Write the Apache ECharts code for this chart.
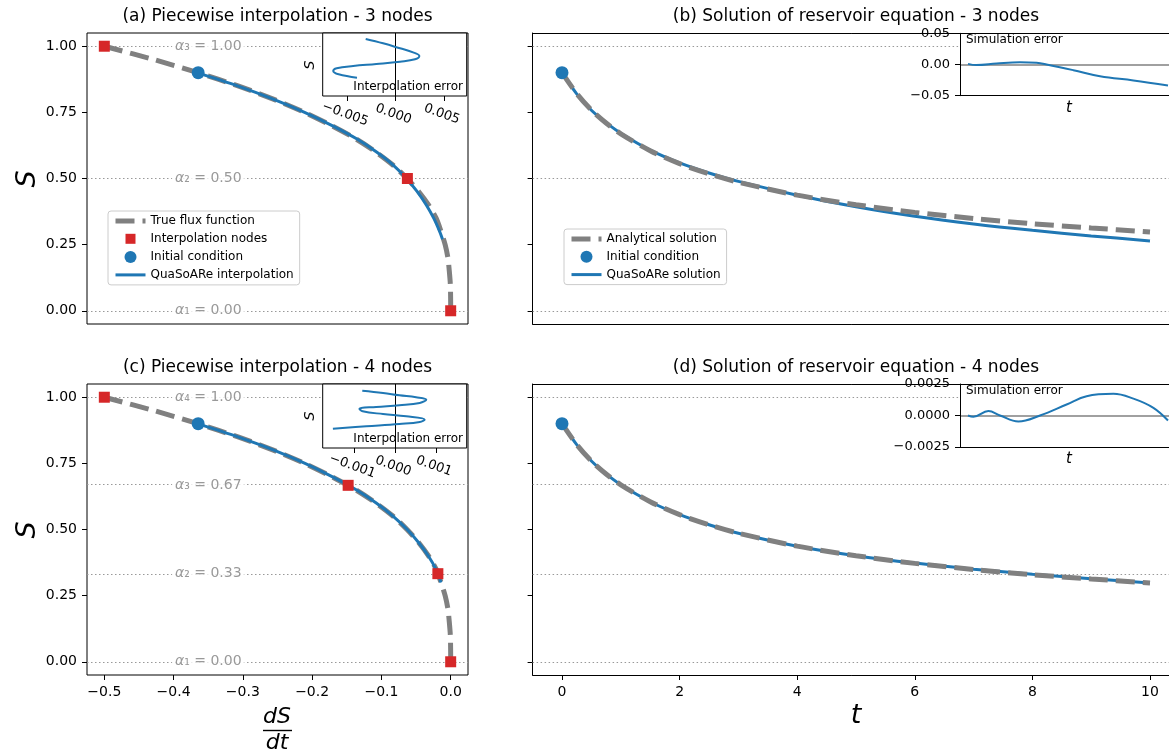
<!DOCTYPE html>
<html><head><meta charset="utf-8">
<script src="https://cdn.jsdelivr.net/npm/echarts@6/dist/echarts.min.js"></script>
<style>html,body{margin:0;padding:0;background:#fff}#c{width:1169px;height:751px}</style>
</head><body><div id="c"></div>
<script>
// ---------------- DATA ----------------
const panelTitles = ['(a) Piecewise interpolation - 3 nodes', '(b) Solution of reservoir equation - 3 nodes',
                     '(c) Piecewise interpolation - 4 nodes', '(d) Solution of reservoir equation - 4 nodes'];
// true flux function dS/dt(S)
const fluxS    = [0, 0.05, 0.1, 0.15, 0.2, 0.25, 0.3, 0.35, 0.4, 0.45, 0.5, 0.55, 0.6, 0.65, 0.7, 0.75, 0.8, 0.85, 0.9, 0.95, 1.0];
const fluxTrue = [0, -0.0001, -0.0005, -0.002, -0.004, -0.008, -0.014, -0.021, -0.032, -0.046, -0.063, -0.083, -0.108, -0.137, -0.172, -0.211, -0.256, -0.307, -0.365, -0.429, -0.5];
// QuaSoARe interpolation (3 and 4 nodes)
const quaso3S    = [0.9, 0.85, 0.8, 0.75, 0.7, 0.65, 0.6, 0.55, 0.5, 0.45, 0.4, 0.35, 0.3, 0.27];
const quaso3Flux = [-0.3665, -0.3078, -0.2563, -0.2109, -0.1711, -0.1358, -0.107, -0.0826, -0.0637, -0.0483, -0.0352, -0.0245, -0.0160, -0.0118];
const quaso4S    = [0.9, 0.85, 0.8, 0.75, 0.7, 0.65, 0.6, 0.55, 0.5, 0.45, 0.4, 0.35, 0.3];
const quaso4Flux = [-0.3658, -0.3073, -0.2553, -0.2103, -0.1712, -0.1364, -0.1075, -0.0829, -0.0628, -0.0461, -0.0322, -0.0213, -0.0140];
// interpolation nodes
const nodes3S = [1.0, 0.5, 0.0];
const nodes3Flux = [-0.5, -0.0625, 0.0];
const nodes4S = [1.0, 0.667, 0.333, 0.0];
const nodes4Flux = [-0.5, -0.148, -0.0185, 0.0];
// initial condition
const initialS = 0.9, initialFlux = -0.3645, initialT = 0;
// alpha levels
const alphaLevels3 = [0.0, 0.5, 1.0];
const alphaSub3 = ['₁', '₂', '₃'];
const alphaLevels4 = [0.0, 0.333, 0.667, 1.0];
const alphaSub4 = ['₁', '₂', '₃', '₄'];
// reservoir equation solutions
const timeT      = [0, 0.25, 0.5, 0.75, 1, 1.5, 2, 2.5, 3, 4, 5, 6, 7, 8, 9, 10];
const analytical = [0.9, 0.821, 0.759, 0.710, 0.669, 0.605, 0.556, 0.518, 0.486, 0.437, 0.401, 0.372, 0.349, 0.329, 0.313, 0.298];
const sim3       = [0.9, 0.820, 0.758, 0.711, 0.671, 0.607, 0.559, 0.521, 0.489, 0.437, 0.393, 0.357, 0.328, 0.304, 0.283, 0.264];
const sim4       = [0.9, 0.821, 0.759, 0.710, 0.669, 0.605, 0.556, 0.518, 0.486, 0.437, 0.401, 0.373, 0.350, 0.331, 0.314, 0.298];
// inset: interpolation error vs S
const ierr3S = [0.905, 0.836, 0.757, 0.693, 0.635, 0.582, 0.545, 0.508, 0.476, 0.439, 0.397, 0.344, 0.29];
const ierr3  = [-0.0031, -0.0013, 0.00045, 0.0018, 0.00245, 0.002, 0.00045, -0.002, -0.0044, -0.0061, -0.00646, -0.0059, -0.004];
const ierr4S = [0.895, 0.859, 0.823, 0.792, 0.755, 0.703, 0.667, 0.641, 0.615, 0.573, 0.531, 0.495, 0.443, 0.406, 0.375, 0.339, 0.302];
const ierr4  = [-0.00081, -0.0003, 0.0001, 0.00051, 0.00076, 0.0006, 0.0001, -0.00047, -0.00088, -0.0008, -0.0003, 0.00027, 0.00072, 0.0006, 0.0001, -0.00071, -0.00153];
// inset: simulation error vs t
const serr3T = [0, 0.42, 1.43, 2.6, 3.43, 3.93, 5.27, 6.6, 8.27, 10];
const serr3  = [0.001, -0.001, 0.0016, 0.0037, 0.0027, 0, -0.0091, -0.0188, -0.0256, -0.0337];
const serr4T = [0, 0.27, 1.02, 1.6, 2.52, 3.6, 4.93, 5.93, 7.27, 8.27, 9.27, 10];
const serr4  = [0, -0.0001, 0.00035, 0, -0.00047, 0, 0.00087, 0.00153, 0.00172, 0.00134, 0.00061, -0.0004];
// tick values
const sTicks = [0, 0.25, 0.5, 0.75, 1.0];
const fluxTicks = [-0.5, -0.4, -0.3, -0.2, -0.1, 0];
const timeTicks = [0, 2, 4, 6, 8, 10];
const ierr3Ticks = [-0.005, 0, 0.005];
const ierr4Ticks = [-0.001, 0, 0.001];
const serr3Ticks = [-0.05, 0, 0.05];
const serr4Ticks = [-0.0025, 0, 0.0025];

// ---------------- CHART ----------------
const FONT = 'DejaVu Sans';
const BLUE = '#1f77b4', RED = '#d62728', GRAY = '#808080';
const fmt = d => v => (v < 0 ? '\u2212' : '') + Math.abs(v).toFixed(d);
const pairs = (xs, ys) => xs.map((x, i) => [x, ys[i]]);
const SPINE = { show: true, onZero: false, lineStyle: { color: '#000', width: 1 } };

function axis(gi, min, max, ticks, labelFmt, extraLabel, spine) {
  return {
    type: 'value', gridIndex: gi, min, max, z: gi >= 4 ? 11 : 0,
    axisLine: spine ? SPINE : { show: false, onZero: false }, splitLine: { show: false },
    axisTick: ticks ? { show: true, customValues: ticks, length: 5, lineStyle: { color: '#000', width: 1 } } : { show: false },
    axisLabel: (ticks && labelFmt) ? Object.assign({ show: true, customValues: ticks, formatter: labelFmt, margin: 10,
      fontSize: 14, fontFamily: FONT, color: '#000' }, extraLabel || {}) : { show: false }
  };
}
function topSpine(gi, min, max) {
  return { type: 'value', gridIndex: gi, min, max, position: 'top', z: gi >= 4 ? 11 : 0,
    axisLine: SPINE, axisTick: { show: false }, axisLabel: { show: false }, splitLine: { show: false } };
}

const DASH = [19, 8];
function levelSeries(ax, levels) {
  return { type: 'scatter', xAxisIndex: ax, yAxisIndex: ax, data: [], silent: true, z: 1,
    markLine: { silent: true, symbol: 'none', z: 1, animation: false, label: { show: false },
      lineStyle: { type: [1.5, 2.5], color: '#999', width: 1 }, data: levels.map(v => ({ yAxis: v })) } };
}
function alphaLabelSeries(ax, levels, subs) {
  return { type: 'scatter', xAxisIndex: ax, yAxisIndex: ax, silent: true, z: 3, symbolSize: 1,
    itemStyle: { color: 'rgba(0,0,0,0)' },
    data: levels.map((v, i) => [-0.35, v, subs[i]]),
    label: { show: true, position: 'inside', backgroundColor: '#fff', padding: [0, 3],
      formatter: p => '{i|α}{t|' + p.data[2] + ' = ' + p.data[1].toFixed(2) + '}',
      rich: { i: { fontStyle: 'italic', fontSize: 14, fontFamily: FONT, color: GRAY },
              t: { fontSize: 14, fontFamily: FONT, color: GRAY } } } };
}
function fluxPanel(ax, qS, qF, nS, nF, levels, subs, qName) {
  return [
    levelSeries(ax, levels),
    alphaLabelSeries(ax, levels, subs),
    { name: 'True flux function', type: 'line', xAxisIndex: ax, yAxisIndex: ax, symbol: 'none', smooth: 0.3, z: 3,
      lineStyle: { color: GRAY, width: 5, type: DASH }, itemStyle: { color: GRAY }, data: pairs(fluxTrue, fluxS) },
    { name: qName, type: 'line', xAxisIndex: ax, yAxisIndex: ax, symbol: 'none', smooth: 0.3, z: 4,
      lineStyle: { color: BLUE, width: 3 }, itemStyle: { color: BLUE }, data: pairs(qF, qS) },
    { name: 'Interpolation nodes', type: 'scatter', xAxisIndex: ax, yAxisIndex: ax, symbol: 'rect', symbolSize: 11, z: 6,
      itemStyle: { color: RED, opacity: 1 }, data: pairs(nF, nS) },
    { name: 'Initial condition', type: 'scatter', xAxisIndex: ax, yAxisIndex: ax, symbol: 'circle', symbolSize: 13, z: 6,
      itemStyle: { color: BLUE, opacity: 1 }, data: [[initialFlux, initialS]] }
  ];
}
function solPanel(ax, sim, levels, simName) {
  return [
    levelSeries(ax, levels),
    { name: simName, type: 'line', xAxisIndex: ax, yAxisIndex: ax, symbol: 'none', smooth: 0.3, z: 3,
      lineStyle: { color: BLUE, width: 3 }, itemStyle: { color: BLUE }, data: pairs(timeT, sim) },
    { name: 'Analytical solution', type: 'line', xAxisIndex: ax, yAxisIndex: ax, symbol: 'none', smooth: 0.3, z: 4,
      lineStyle: { color: GRAY, width: 5, type: DASH }, itemStyle: { color: GRAY }, data: pairs(timeT, analytical) },
    { name: 'Initial condition', type: 'scatter', xAxisIndex: ax, yAxisIndex: ax, symbol: 'circle', symbolSize: 13, z: 6,
      itemStyle: { color: BLUE, opacity: 1 }, data: [[initialT, initialS]] }
  ];
}
function insetSeries(ax, data, refLine) {
  return { type: 'line', xAxisIndex: ax, yAxisIndex: ax, symbol: 'none', smooth: 0.4, z: 12, silent: true,
    lineStyle: { color: BLUE, width: 2 }, data,
    markLine: { silent: true, symbol: 'none', z: 11, animation: false, label: { show: false },
      lineStyle: refLine.style, data: [refLine.pos] } };
}

const boxGrid = (bg, z) => ({ show: true, borderColor: '#000', borderWidth: 1, backgroundColor: bg, z, outerBoundsMode: 'none', containLabel: false });
const openGrid = (bg, z) => ({ show: true, borderWidth: 0, backgroundColor: bg, z, outerBoundsMode: 'none', containLabel: false });

const textEl = (x, y, text, size, extra) => Object.assign({ type: 'text', x, y, z: 100,
  style: Object.assign({ text, fontSize: size, fontFamily: FONT, fill: '#000', align: 'center', verticalAlign: 'middle' }, (extra && extra.style) || {}) },
  extra && extra.rotation !== undefined ? { rotation: extra.rotation } : {});

const legendBase = { orient: 'vertical', itemGap: 5.3, itemWidth: 30, itemHeight: 13, padding: [4, 6, 4, 5],
  borderColor: '#cccccc', borderWidth: 1, borderRadius: 3, backgroundColor: 'rgba(255,255,255,0.85)',
  selectedMode: false, z: 20, textStyle: { fontSize: 12, fontFamily: FONT, color: '#000' },
  lineStyle: { width: 'inherit' } };
const squareIcon = 'path://M0,0M13,13M1.5,1.5H11.5V11.5H1.5Z';
const circleIcon = 'path://M0,0M13,13M0.5,6.5A6,6 0 1,1 12.5,6.5A6,6 0 1,1 0.5,6.5Z';
const noSymbol = { color: 'rgba(0,0,0,0)', borderWidth: 0, opacity: 0 };

const option = {
  animation: false,
  backgroundColor: '#fff',
  grid: [
    Object.assign({ left: 87, top: 33, width: 381, height: 291 }, boxGrid('transparent', 0)),
    Object.assign({ left: 532.6, top: 33, width: 646.8, height: 291 }, openGrid('transparent', 0)),
    Object.assign({ left: 87, top: 384, width: 381, height: 291 }, boxGrid('transparent', 0)),
    Object.assign({ left: 532.6, top: 384, width: 646.8, height: 291 }, openGrid('transparent', 0)),
    Object.assign({ left: 322.7, top: 33, width: 144, height: 63 }, boxGrid('#fff', 10)),
    Object.assign({ left: 960, top: 33.3, width: 230, height: 62.4 }, openGrid('#fff', 10)),
    Object.assign({ left: 322.7, top: 384, width: 144, height: 64 }, boxGrid('#fff', 10)),
    Object.assign({ left: 960, top: 384, width: 230, height: 63 }, openGrid('#fff', 10))
  ],
  xAxis: [
    axis(0, -0.525, 0.025, null),
    axis(1, -0.5, 10.5, null, null, null, true),
    axis(2, -0.525, 0.025, fluxTicks, fmt(1)),
    axis(3, -0.5, 10.5, timeTicks, v => String(v), null, true),
    axis(4, -0.00755, 0.00735, ierr3Ticks, fmt(3), { rotate: -20, align: 'center', verticalAlign: 'top', margin: 12, fontSize: 13 }),
    axis(5, -0.4, 11.1, null, null, null, true),
    axis(6, -0.00178, 0.00175, ierr4Ticks, fmt(3), { rotate: -20, align: 'center', verticalAlign: 'top', margin: 12, fontSize: 13 }),
    axis(7, -0.4, 11.1, null, null, null, true),
    topSpine(1, -0.5, 10.5),
    topSpine(3, -0.5, 10.5),
    topSpine(5, -0.4, 11.1),
    topSpine(7, -0.4, 11.1)
  ],
  yAxis: [
    axis(0, -0.05, 1.05, sTicks, fmt(2)),
    axis(1, -0.05, 1.05, sTicks, null, null, true),
    axis(2, -0.05, 1.05, sTicks, fmt(2)),
    axis(3, -0.05, 1.05, sTicks, null, null, true),
    axis(4, 0, 1, null),
    axis(5, -0.05, 0.05, serr3Ticks, fmt(2), { fontSize: 13 }, true),
    axis(6, 0, 1, null),
    axis(7, -0.0025, 0.0025, serr4Ticks, fmt(4), { fontSize: 13 }, true)
  ],
  legend: [
    Object.assign({ left: 108, top: 211, data: [
      { name: 'True flux function', itemStyle: noSymbol },
      { name: 'Interpolation nodes', icon: squareIcon },
      { name: 'Initial condition', icon: circleIcon },
      { name: 'QuaSoARe interpolation', itemStyle: noSymbol }] }, legendBase),
    Object.assign({ left: 564, top: 229, data: [
      { name: 'Analytical solution', itemStyle: noSymbol },
      { name: 'Initial condition', icon: circleIcon },
      { name: 'QuaSoARe solution', itemStyle: noSymbol }] }, legendBase)
  ],
  series: [
    ...fluxPanel(0, quaso3S, quaso3Flux, nodes3S, nodes3Flux, alphaLevels3, alphaSub3, 'QuaSoARe interpolation'),
    ...solPanel(1, sim3, alphaLevels3, 'QuaSoARe solution'),
    ...fluxPanel(2, quaso4S, quaso4Flux, nodes4S, nodes4Flux, alphaLevels4, alphaSub4, 'QuaSoARe interpolation'),
    ...solPanel(3, sim4, alphaLevels4, 'QuaSoARe solution'),
    insetSeries(4, pairs(ierr3, ierr3S), { pos: { xAxis: 0 }, style: { color: '#000', width: 1, type: 'solid' } }),
    insetSeries(5, pairs(serr3T, serr3), { pos: { yAxis: 0 }, style: { color: GRAY, width: 1.5, type: 'solid' } }),
    insetSeries(6, pairs(ierr4, ierr4S), { pos: { xAxis: 0 }, style: { color: '#000', width: 1, type: 'solid' } }),
    insetSeries(7, pairs(serr4T, serr4), { pos: { yAxis: 0 }, style: { color: GRAY, width: 1.5, type: 'solid' } })
  ],
  graphic: [
    textEl(277.5, 17, panelTitles[0], 17),
    textEl(856, 17, panelTitles[1], 17),
    textEl(277.5, 368, panelTitles[2], 17),
    textEl(856, 368, panelTitles[3], 17),
    textEl(28, 179, 'S', 27, { rotation: Math.PI / 2, style: { fontStyle: 'italic' } }),
    textEl(28, 530, 'S', 27, { rotation: Math.PI / 2, style: { fontStyle: 'italic' } }),
    textEl(277, 717, 'dS', 22, { style: { fontStyle: 'italic' } }),
    { type: 'line', z: 100, shape: { x1: 263, y1: 730.5, x2: 292, y2: 730.5 }, style: { stroke: '#000', lineWidth: 1.4 } },
    textEl(277, 743, 'dt', 22, { style: { fontStyle: 'italic' } }),
    textEl(856, 716, 't', 27, { style: { fontStyle: 'italic' } }),
    textEl(463, 87, 'Interpolation error', 12, { style: { align: 'right' } }),
    textEl(463, 439, 'Interpolation error', 12, { style: { align: 'right' } }),
    textEl(966, 40, 'Simulation error', 12, { style: { align: 'left' } }),
    textEl(966, 391, 'Simulation error', 12, { style: { align: 'left' } }),
    textEl(310, 65, 'S', 14, { rotation: Math.PI / 2, style: { fontStyle: 'italic' } }),
    textEl(310, 416, 'S', 14, { rotation: Math.PI / 2, style: { fontStyle: 'italic' } }),
    textEl(1069, 108, 't', 15, { style: { fontStyle: 'italic' } }),
    textEl(1069, 459, 't', 15, { style: { fontStyle: 'italic' } })
  ]
};

const chart = echarts.init(document.getElementById('c'), null, { renderer: 'canvas' });
chart.setOption(option);
</script></body></html>
